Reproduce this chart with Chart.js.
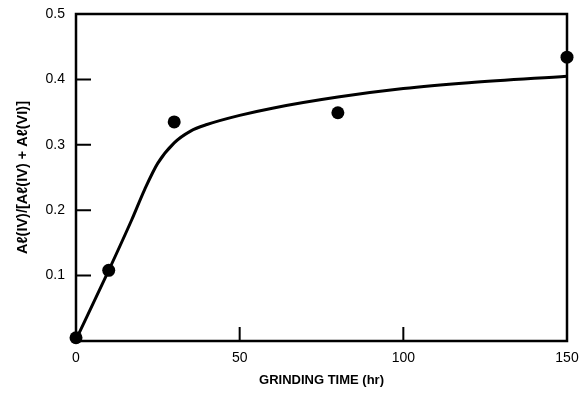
<!DOCTYPE html>
<html lang="en">

<head>
  <meta charset="UTF-8" />
  <title>Grinding time</title>
  <script src="https://cdn.jsdelivr.net/npm/chart.js"></script>
  <style>
    html, body { margin: 0; padding: 0; background: #fff; }
    .chart-box { width: 581px; height: 396px; }
  </style>
</head>

<body>
  <div class="chart-box">
    <canvas id="grindChart"></canvas>
  </div>

  <script>
    // measured points
    const timeHr = [0, 10, 30, 80, 150];
    const alRatio = [0.005, 0.108, 0.335, 0.349, 0.434];

    // fitted curve
    const curveHr = [0, 10, 17, 21, 25, 30, 35, 40, 50, 60, 80, 100, 120, 150];
    const curveRatio = [0.002, 0.108, 0.185, 0.232, 0.272, 0.303, 0.321, 0.331, 0.345, 0.356, 0.373, 0.386, 0.395, 0.405];

    const xTicks = [0, 50, 100, 150];
    const yTicks = [0, 0.1, 0.2, 0.3, 0.4, 0.5];

    Chart.defaults.font.family = "'Liberation Sans', Arial, sans-serif";
    Chart.defaults.color = '#000';

    // frame + inward tick marks
    const framePlugin = {
      id: 'frame',
      afterDraw(chart) {
        const { ctx, chartArea: a, scales } = chart;
        ctx.save();
        ctx.strokeStyle = '#000';
        ctx.lineWidth = 2.5;
        ctx.strokeRect(a.left, a.top, a.right - a.left, a.bottom - a.top);
        ctx.lineWidth = 2;
        ctx.beginPath();
        yTicks.slice(1, -1).forEach(v => {
          const y = scales.y.getPixelForValue(v);
          ctx.moveTo(a.left, y);
          ctx.lineTo(a.left + 15, y);
        });
        xTicks.slice(1, -1).forEach(v => {
          const x = scales.x.getPixelForValue(v);
          ctx.moveTo(x, a.bottom);
          ctx.lineTo(x, a.bottom - 14);
        });
        ctx.stroke();
        ctx.restore();
      }
    };

    const ctx = document.getElementById('grindChart').getContext('2d');
    new Chart(ctx, {
      type: 'scatter',
      data: {
        datasets: [
          {
            label: 'measured',
            data: timeHr.map((t, i) => ({ x: t, y: alRatio[i] })),
            pointRadius: 6.5,
            pointBackgroundColor: '#000',
            pointBorderColor: '#000',
            pointBorderWidth: 0,
            showLine: false,
            clip: false
          },
          {
            label: 'curve',
            data: curveHr.map((t, i) => ({ x: t, y: curveRatio[i] })),
            showLine: true,
            borderColor: '#000',
            borderWidth: 3,
            pointRadius: 0,
            cubicInterpolationMode: 'monotone',
            clip: false
          }
        ]
      },
      options: {
        responsive: true,
        maintainAspectRatio: false,
        animation: false,
        layout: { autoPadding: false, padding: { top: 14, right: 14, left: 0, bottom: 0 } },
        plugins: {
          legend: { display: false },
          tooltip: { enabled: false }
        },
        scales: {
          x: {
            type: 'linear',
            min: 0,
            max: 150,
            afterFit: s => { s.height = 55; s.paddingLeft = 0; s.paddingRight = 0; },
            afterBuildTicks: s => { s.ticks = xTicks.map(v => ({ value: v })); },
            grid: { display: false, drawTicks: false, tickLength: 0 },
            border: { display: false },
            ticks: { padding: 9, font: { size: 14 }, maxRotation: 0 },
            title: {
              display: true,
              text: 'GRINDING TIME (hr)',
              font: { size: 13, weight: 'bold' },
              padding: { bottom: 8 }
            }
          },
          y: {
            type: 'linear',
            min: 0,
            max: 0.5,
            afterFit: s => { s.width = 76; s.paddingTop = 0; s.paddingBottom = 0; },
            afterBuildTicks: s => { s.ticks = yTicks.map(v => ({ value: v })); },
            grid: { display: false, drawTicks: false, tickLength: 0 },
            border: { display: false },
            ticks: {
              padding: 11,
              font: { size: 14 },
              callback: v => v === 0 ? '' : v.toFixed(1)
            },
            title: {
              display: true,
              text: 'A\u2113(IV)/[A\u2113(IV) + A\u2113(VI)]',
              font: { size: 14.5, weight: 'bold' },
              padding: { top: 14 }
            }
          }
        }
      },
      plugins: [framePlugin]
    });
  </script>
</body>

</html>
